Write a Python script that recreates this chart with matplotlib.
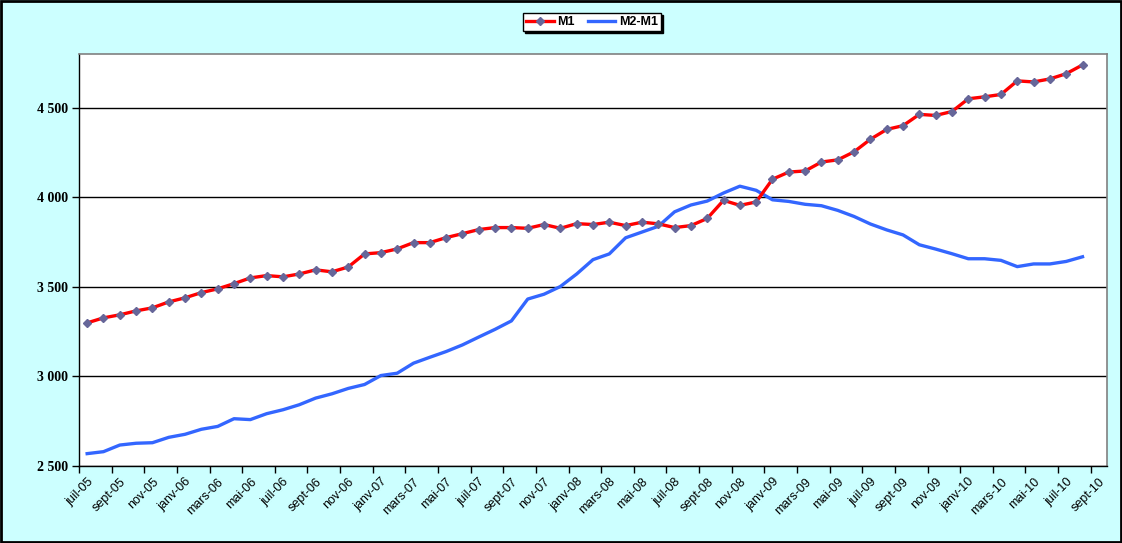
import numpy as np
import matplotlib
matplotlib.use('Agg')
import matplotlib.pyplot as plt
from matplotlib.patches import Rectangle
from matplotlib.ticker import FuncFormatter

# months juil-05 .. sept-10 (last category has no data)
months = ['juil', 'août', 'sept', 'oct', 'nov', 'déc', 'janv', 'févr', 'mars', 'avr', 'mai', 'juin']
labels = []
for k in range(63):
        year = 5 + (6 + k) // 12
        labels.append(months[k % 12] + '-%02d' % year)

m1 = [3299, 3327, 3344, 3366, 3383, 3416, 3439, 3468, 3489, 3518, 3550, 3563,
      3556, 3572, 3595, 3584, 3611, 3684, 3691, 3712, 3747, 3747, 3775, 3797,
      3820, 3831, 3831, 3827, 3848, 3827, 3853, 3848, 3861, 3842, 3861, 3852,
      3831, 3842, 3882, 3983, 3955, 3974, 4101, 4141, 4147, 4197, 4209, 4254,
      4324, 4379, 4400, 4463, 4457, 4479, 4550, 4561, 4574, 4650, 4644, 4661,
      4690, 4739]

m2m1 = [2569, 2580, 2617, 2627, 2630, 2660, 2677, 2705, 2721, 2764, 2759, 2792,
        2814, 2842, 2879, 2903, 2933, 2955, 3005, 3018, 3074, 3107, 3139, 3176,
        3220, 3263, 3310, 3432, 3459, 3502, 3572, 3652, 3684, 3774, 3806, 3838,
        3919, 3957, 3979, 4024, 4062, 4039, 3986, 3977, 3961, 3953, 3927, 3893,
        3851, 3818, 3790, 3735, 3711, 3685, 3657, 3657, 3648, 3613, 3628, 3628,
        3642, 3668]

bg = '#CCFFFF'
fig = plt.figure(figsize=(11.22, 5.43), dpi=100, facecolor=bg)
ax = fig.add_axes([79/1122, 1 - 466/543, 1028/1122, 412/543])
ax.set_facecolor('white')

x = np.arange(len(m1))
ax.plot(x, m1, color='#FF0000', lw=2.4, marker='D', ms=4.5,
        mfc='#666699', mec='#666699', label='M1', zorder=3)
ax.plot(np.arange(len(m2m1)), m2m1, color='#3366FF', lw=2.4, label='M2-M1', zorder=2)

ax.set_xlim(-0.5, 62.5)
ax.set_ylim(2500, 4800)

# y axis
ax.set_yticks([2500, 3000, 3500, 4000, 4500])
ax.yaxis.set_major_formatter(FuncFormatter(lambda v, p: '{:,.0f}'.format(v).replace(',', ' ')))
for t in ax.get_yticklabels():
        t.set_fontfamily('Liberation Serif')
        t.set_fontweight('bold')
        t.set_fontsize(10)
ax.tick_params(axis='y', direction='out', length=5, width=1, color='black', pad=3)
ax.grid(axis='y', color='black', lw=1)
ax.set_axisbelow(True)

# x axis: ticks between categories, labels every 2 months
ax.set_xticks(np.arange(-0.5, 62, 2))
ax.set_xticklabels([])
ax.set_xticks(np.arange(0, 63, 2), minor=True)
ax.set_xticklabels(labels[::2], minor=True, rotation=45, ha='right',
                   rotation_mode='anchor', fontsize=9, fontfamily='Liberation Sans')
ax.tick_params(axis='x', which='major', direction='out', length=5, width=1, color='black')
ax.tick_params(axis='x', which='minor', length=0, pad=7)

for s in ['left', 'bottom']:
        ax.spines[s].set_color('black')
        ax.spines[s].set_linewidth(1)
for s in ['top', 'right']:
        ax.spines[s].set_color('#808080')
        ax.spines[s].set_linewidth(1.2)

leg = fig.legend(loc='center', bbox_to_anchor=(592/1122, 1 - 22/543), ncol=2,
                 frameon=True, fancybox=False, edgecolor='black', facecolor='white',
                 framealpha=1, shadow={'color': 'black', 'alpha': 1, 'ox': 1.5, 'oy': -1.5},
                 prop={'family': 'Liberation Sans', 'weight': 'bold', 'size': 9},
                 handlelength=2.2, handletextpad=0.3, columnspacing=1.0,
                 borderpad=0.25, borderaxespad=0)
leg.get_frame().set_linewidth(1)

fig.patches.append(Rectangle((0.001, 0.001), 0.998, 0.997, transform=fig.transFigure,
                             fill=False, edgecolor='black', lw=2))

fig.savefig('out.png', dpi=100, facecolor=bg)
